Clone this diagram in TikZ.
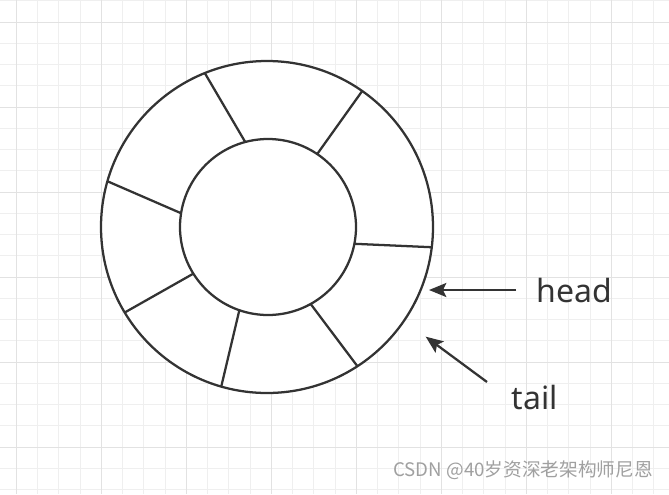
\documentclass[tikz,border=0pt]{standalone}
\usepackage{fontspec}
\newfontfamily\labelfont{Noto Sans}
\newfontfamily\cjkfont{Noto Sans CJK SC}
\usetikzlibrary{arrows.meta,positioning}
\definecolor{ink}{HTML}{333333}
\definecolor{gridminor}{HTML}{EFEFEF}
\definecolor{gridmajor}{HTML}{E2E2E2}
\definecolor{wmgray}{HTML}{A0A0A0}
\tikzset{
  ring/.style   ={circle,draw=ink,line width=1.7pt,inner sep=0pt,outer sep=0pt},
  spoke/.style  ={draw=ink,line width=1.7pt},
  ptr/.style    ={draw=ink,line width=1.7pt,-{Stealth[length=13pt,width=10.5pt,inset=2.5pt]}},
  lbl/.style    ={font=\labelfont\fontsize{24}{28}\selectfont,text=ink,inner sep=0pt},
  wmark/.style  ={font=\cjkfont\fontsize{14}{16}\selectfont,text=wmgray,inner sep=0pt},
  minorln/.style={draw=gridminor,line width=0.75pt},
  majorln/.style={draw=gridmajor,line width=0.75pt},
}

\begin{document}
\begin{tikzpicture}[x=0.75pt,y=-0.75pt]
  \useasboundingbox (0,0) rectangle (669,494);
  \fill[white] (0,0) rectangle (669,494);
  % paper grid
  \begin{scope}
    \clip (0,0) rectangle (669,494);
    \foreach \k in {0,...,30} \draw[minorln] ({16.3+21.25*\k},0) -- ++(0,494);
    \foreach \k in {0,...,23} \draw[minorln] (0,{0.75+21.25*\k}) -- ++(669,0);
    \foreach \k in {0,...,7} \draw[majorln] ({16.3+85*\k},0) -- ++(0,494);
    \foreach \k in {0,...,5} \draw[majorln] (0,{22+85*\k}) -- ++(669,0);
  \end{scope}

  % ring buffer
  \node[ring,fill=white,minimum size=249pt] (outer) at (267,227) {};
  \node[ring,minimum size=132pt] (inner) at (268,227) {};
  \foreach \o/\i in {112.6/105.7, 55.8/56.6, 164.5/171.5, 353.7/349.4,
                     211.5/212.2, 254.3/251.5, 303.1/299.8}
    \draw[spoke] (outer.\o) -- (inner.\i);

  % pointers
  \node[lbl] (head) at (574,290) {head};
  \node[lbl] (tail) at (535,397) {tail};
  \coordinate (headtip) at (429,290);
  \coordinate (tailtip) at (425.7,336.7);
  \coordinate (tailfrom) at (487,382);
  \draw[ptr,shorten <=15pt] (head.west) -- (headtip);
  \draw[ptr] (tailfrom) -- (tailtip);

  \node[wmark,anchor=east] (wm) at (653,470) {CSDN @40岁资深老架构师尼恩};
\end{tikzpicture}
\end{document}
